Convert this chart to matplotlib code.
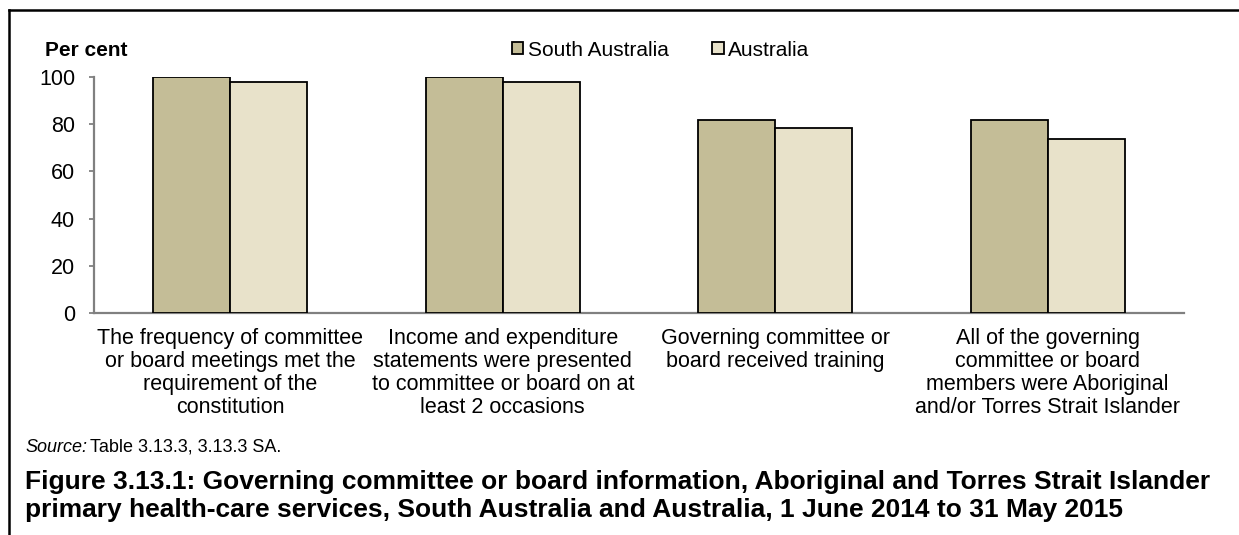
import matplotlib
matplotlib.use("Agg")
import matplotlib.pyplot as plt
from matplotlib.lines import Line2D
from matplotlib.patches import Patch
import numpy as np

plt.rcParams['font.family'] = ['Liberation Sans', 'DejaVu Sans']

categories = [
    "The frequency of committee\nor board meetings met the\nrequirement of the\nconstitution",
    "Income and expenditure\nstatements were presented\nto committee or board on at\nleast 2 occasions",
    "Governing committee or\nboard received training",
    "All of the governing\ncommittee or board\nmembers were Aboriginal\nand/or Torres Strait Islander",
]
series_names = ["South Australia", "Australia"]
south_australia = [100.0, 100.0, 81.8, 81.8]
australia = [97.9, 97.9, 78.6, 73.7]
yticks = [0, 20, 40, 60, 80, 100]

colors = ["#c4bd97", "#e8e2ca"]
axis_grey = "#808080"
fs = 15.5

W, H = 1239, 535
fig = plt.figure(figsize=(W / 100, H / 100), dpi=100)

# axes placement in pixel terms
left_px, right_px, top_px, bottom_px = 94, 1184, 77, 313
ax = fig.add_axes([left_px / W, 1 - bottom_px / H,
                   (right_px - left_px) / W, (bottom_px - top_px) / H])

x = np.arange(len(categories))
bw = 0.283
ax.bar(x - bw / 2, south_australia, bw, color=colors[0], edgecolor="black",
       linewidth=1.3, zorder=3)
ax.bar(x + bw / 2, australia, bw, color=colors[1], edgecolor="black",
       linewidth=1.3, zorder=3)

ax.set_xlim(-0.5, len(categories) - 0.5)
ax.set_ylim(0, 100)
ax.set_yticks(yticks)
ax.set_yticklabels([str(v) for v in yticks], fontsize=fs)
ax.tick_params(axis="y", direction="out", length=3.6, color=axis_grey, width=1.3, pad=10)
ax.set_xticks(x)
ax.set_xticklabels(categories, fontsize=fs, linespacing=1.12, va="top")
ax.tick_params(axis="x", length=0, pad=11)

for s in ["top", "right"]:
    ax.spines[s].set_visible(False)
for s in ["left", "bottom"]:
    ax.spines[s].set_color(axis_grey)
    ax.spines[s].set_linewidth(1.6)

fig.text(45 / W, 1 - 50 / H, "Per cent", fontsize=fs - 0.5, fontweight="bold",
         va="center", ha="left")

handles = [Patch(facecolor=c, edgecolor="black", linewidth=1.3) for c in colors]
fig.legend(handles, series_names, loc="center left", bbox_to_anchor=(512 / W, 1 - 50 / H),
           ncol=2, frameon=False, fontsize=fs - 0.5, handlelength=0.55, handleheight=0.55,
           handletextpad=0.2, columnspacing=2.1, borderaxespad=0, borderpad=0)

# source note: italic lead-in followed by plain text
src = fig.text(25 / W, 1 - 447 / H, "Source:", fontsize=13, va="center", ha="left",
               style="italic")
fig.canvas.draw()
bb = src.get_window_extent()
fig.text((bb.x1 + 3) / W, 1 - 447 / H, "Table 3.13.3, 3.13.3 SA.", fontsize=13,
         va="center", ha="left")

fig.text(25 / W, 1 - 496 / H,
         "Figure 3.13.1: Governing committee or board information, Aboriginal and Torres Strait Islander\n"
         "primary health-care services, South Australia and Australia, 1 June 2014 to 31 May 2015",
         fontsize=19, fontweight="bold", va="center", ha="left", linespacing=1.17)

# frame lines along top and left
fig.add_artist(Line2D([9 / W, 1], [1 - 10 / H, 1 - 10 / H], color="black", linewidth=1.8))
fig.add_artist(Line2D([9 / W, 9 / W], [0, 1 - 10 / H], color="black", linewidth=1.8))

fig.savefig("out.png", dpi=100)
